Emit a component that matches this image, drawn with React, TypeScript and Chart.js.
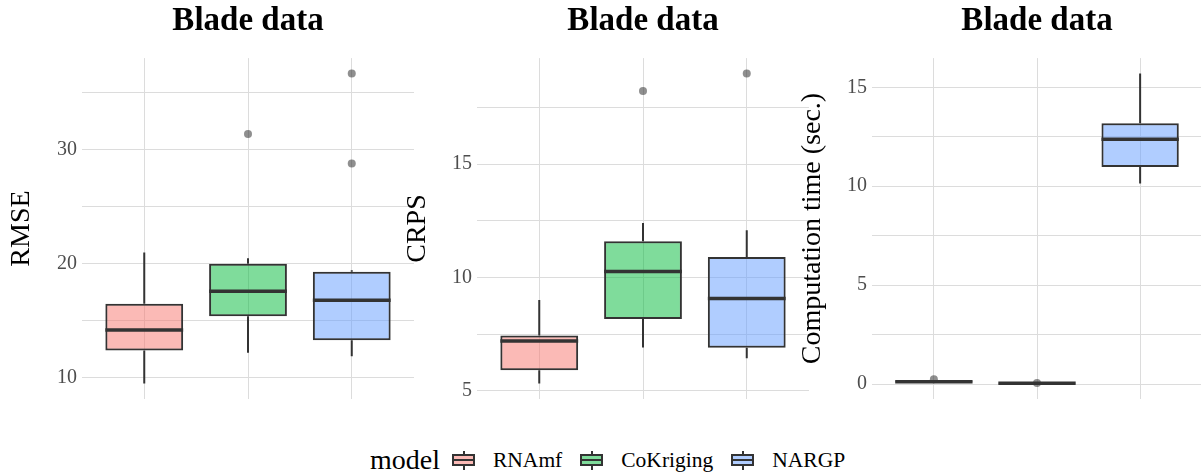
import React, { useEffect, useRef } from 'react';
import { Chart, registerables } from 'chart.js';

Chart.register(...registerables);

const FONT = '"Liberation Serif", "Times New Roman", serif';

const models = ['RNAmf', 'CoKriging', 'NARGP'];
const fillColors = ['rgba(248,118,109,0.5)', 'rgba(0,186,56,0.5)', 'rgba(97,156,255,0.5)'];
const chartTitle = 'Blade data';

// RMSE
const rmseLower = [9.5, 12.2, 11.9];
const rmseQ1 = [12.4, 15.4, 13.3];
const rmseMedian = [14.2, 17.6, 16.8];
const rmseQ3 = [16.5, 20.0, 19.3];
const rmseUpper = [21.0, 20.5, 19.45];
const rmseOutlierModel = [1, 2, 2];
const rmseOutlierValue = [31.4, 36.7, 28.8];

// CRPS
const crpsLower = [5.32, 6.91, 6.44];
const crpsQ1 = [5.91, 8.17, 6.9];
const crpsMedian = [7.2, 10.26, 9.07];
const crpsQ3 = [7.44, 11.6, 10.9];
const crpsUpper = [9.01, 12.4, 12.09];
const crpsOutlierModel = [1, 2];
const crpsOutlierValue = [18.23, 19.0];

// Computation time
const timeLower = [0.07, 0.03, 10.14];
const timeQ1 = [0.09, 0.035, 10.97];
const timeMedian = [0.12, 0.045, 12.37];
const timeQ3 = [0.14, 0.06, 13.18];
const timeUpper = [0.16, 0.065, 15.69];
const timeOutlierModel = [0, 1];
const timeOutlierValue = [0.25, 0.05];

type Panel = {
  yLabel: string;
  lower: number[];
  q1: number[];
  median: number[];
  q3: number[];
  upper: number[];
  outModel: number[];
  outValue: number[];
  step: number;
  labelEvery: number;
  left: number;
  width: number;
  axisWidth: number;
  titlePad: number;
  padRight: number;
};

const panels: Panel[] = [
  {
    yLabel: 'RMSE', lower: rmseLower, q1: rmseQ1, median: rmseMedian, q3: rmseQ3, upper: rmseUpper,
    outModel: rmseOutlierModel, outValue: rmseOutlierValue, step: 5, labelEvery: 10,
    left: 0, width: 418, axisWidth: 82, titlePad: 5, padRight: 2,
  },
  {
    yLabel: 'CRPS', lower: crpsLower, q1: crpsQ1, median: crpsMedian, q3: crpsQ3, upper: crpsUpper,
    outModel: crpsOutlierModel, outValue: crpsOutlierValue, step: 2.5, labelEvery: 5,
    left: 398, width: 415, axisWidth: 79, titlePad: 3, padRight: 2,
  },
  {
    yLabel: 'Computation time (sec.)', lower: timeLower, q1: timeQ1, median: timeMedian, q3: timeQ3, upper: timeUpper,
    outModel: timeOutlierModel, outValue: timeOutlierValue, step: 2.5, labelEvery: 5,
    left: 790, width: 416, axisWidth: 82, titlePad: 6, padRight: 0,
  },
];

const GRID = '#dcdcdc';
const INK = '#333333';

function BoxPanel({ p }: { p: Panel }) {
  const ref = useRef<HTMLCanvasElement | null>(null);
  useEffect(() => {
    if (!ref.current) return;
    const lo = Math.min(...p.lower, ...p.outValue);
    const hi = Math.max(...p.upper, ...p.outValue);
    const pad = (hi - lo) * 0.05;

    const boxPlugin = {
      id: 'boxWhiskers',
      afterDatasetsDraw(chart: any) {
        const ctx = chart.ctx;
        const ys = chart.scales.y;
        const meta = chart.getDatasetMeta(1);
        ctx.save();
        ctx.strokeStyle = INK;
        ctx.lineCap = 'butt';
        p.median.forEach((m, i) => {
          const el = meta.data[i];
          const cx = el.x;
          const w = el.width;
          ctx.lineWidth = 2;
          ctx.beginPath();
          ctx.moveTo(cx, ys.getPixelForValue(p.upper[i]));
          ctx.lineTo(cx, ys.getPixelForValue(p.q3[i]));
          ctx.moveTo(cx, ys.getPixelForValue(p.q1[i]));
          ctx.lineTo(cx, ys.getPixelForValue(p.lower[i]));
          ctx.stroke();
          ctx.lineWidth = 3.5;
          const my = ys.getPixelForValue(m);
          ctx.beginPath();
          ctx.moveTo(cx - w / 2, my);
          ctx.lineTo(cx + w / 2, my);
          ctx.stroke();
        });
        ctx.restore();
      },
    };

    const chart = new Chart(ref.current, {
      type: 'bar',
      data: {
        datasets: [
          {
            type: 'scatter',
            data: p.outModel.map((m, i) => ({ x: m + 1, y: p.outValue[i] })),
            pointRadius: 4,
            pointBackgroundColor: 'rgba(51,51,51,0.55)',
            pointBorderWidth: 0,
            order: 2,
          } as any,
          {
            type: 'bar',
            data: models.map((_, i) => ({ x: i + 1, y: [p.q1[i], p.q3[i]] })),
            backgroundColor: fillColors,
            borderColor: INK,
            borderWidth: 2,
            borderSkipped: false,
            barPercentage: 0.75,
            categoryPercentage: 1,
            order: 1,
          } as any,
        ],
      },
      options: {
        animation: false,
        responsive: false,
        maintainAspectRatio: false,
        layout: { padding: { left: 0, right: p.padRight, top: 0, bottom: 0 } },
        plugins: {
          legend: { display: false },
          tooltip: { enabled: false },
          title: {
            display: true,
            text: chartTitle,
            fullSize: false,
            color: '#000',
            font: { family: FONT, size: 33, weight: 'bold' },
            padding: { top: 1.5, bottom: 17 },
          },
        },
        scales: {
          x: {
            type: 'linear',
            min: 0.4,
            max: 3.6,
            offset: false,
            ticks: { display: false, stepSize: 1, includeBounds: false },
            grid: { color: GRID, lineWidth: 1, drawTicks: false, offset: false },
            border: { display: false },
            afterFit: (s: any) => { s.height = 31; },
          },
          y: {
            type: 'linear',
            min: lo - pad,
            max: hi + pad,
            ticks: {
              stepSize: p.step,
              includeBounds: false,
              color: '#4d4d4d',
              font: { family: FONT, size: 20 },
              padding: 5,
              callback: (v: any) => {
                const r = v / p.labelEvery;
                return Math.abs(r - Math.round(r)) < 1e-9 ? String(v) : '';
              },
            },
            grid: { color: GRID, lineWidth: 1, drawTicks: false },
            border: { display: false },
            title: {
              display: true,
              text: p.yLabel,
              color: '#000',
              font: { family: FONT, size: 28 },
              padding: { top: p.titlePad, bottom: 0 },
            },
            afterFit: (s: any) => { s.width = p.axisWidth; },
          },
        },
      } as any,
      plugins: [boxPlugin],
    });
    return () => chart.destroy();
  }, [p]);

  return (
    <canvas
      ref={ref}
      width={p.width}
      height={430}
      style={{ position: 'absolute', left: p.left, top: 0, width: p.width, height: 430 }}
    />
  );
}

function LegendKey({ color }: { color: string }) {
  return (
    <div style={{ position: 'relative', width: 23, height: 19, flex: '0 0 auto' }}>
      <div style={{ position: 'absolute', left: 10.5, top: 0, width: 2, height: 4, background: INK }} />
      <div style={{ position: 'absolute', left: 10.5, top: 15, width: 2, height: 4, background: INK }} />
      <div
        style={{
          position: 'absolute', left: 0, top: 3.5, width: 23, height: 12, boxSizing: 'border-box',
          border: `2px solid ${INK}`, background: color,
        }}
      />
      <div style={{ position: 'absolute', left: 0, top: 8.5, width: 23, height: 2, background: INK }} />
    </div>
  );
}

export default function App() {
  useEffect(() => {
    document.body.style.margin = '0';
  }, []);
  return (
    <div style={{ position: 'fixed', left: 0, top: 0, width: 1201, height: 472, background: '#fff', overflow: 'hidden' }}>
      {panels.map((p, i) => (
        <BoxPanel key={i} p={p} />
      ))}
      <div
        style={{
          position: 'absolute', left: 370, top: 447, height: 26, display: 'flex', alignItems: 'center',
          fontFamily: FONT, color: '#000', whiteSpace: 'nowrap',
        }}
      >
        <span style={{ fontSize: 28, lineHeight: '26px', marginRight: 12 }}>model</span>
        {models.map((m, i) => (
          <React.Fragment key={m}>
            <LegendKey color={fillColors[i]} />
            <span style={{ fontSize: 21.5, lineHeight: '26px', marginLeft: 18, marginRight: i < models.length - 1 ? 18 : 0 }}>{m}</span>
          </React.Fragment>
        ))}
      </div>
    </div>
  );
}
